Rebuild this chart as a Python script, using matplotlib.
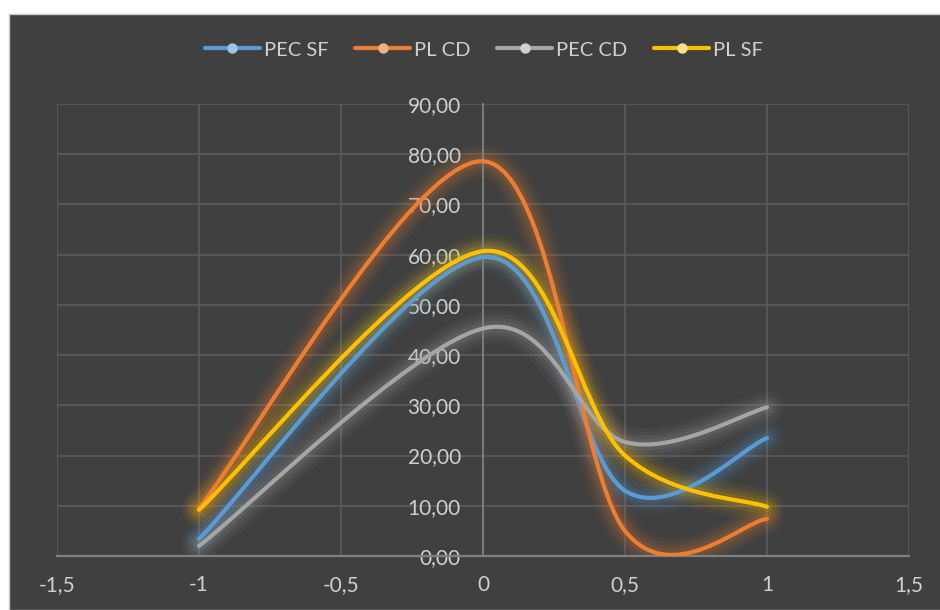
import matplotlib

matplotlib.use("Agg")
import matplotlib.pyplot as plt
import numpy as np
from matplotlib.lines import Line2D
from matplotlib.patches import PathPatch, Rectangle
from matplotlib.path import Path
from matplotlib.ticker import FuncFormatter


X_POINTS = [-1.0, 0.0, 0.5, 1.0]
PEC_SF = [3.4, 59.5, 13.0, 23.5]
PL_CD = [9.5, 78.6, 5.0, 7.4]
PEC_CD = [2.0, 45.3, 22.7, 29.6]
PL_SF = [9.2, 60.7, 20.0, 9.8]

SERIES_NAMES = ["PEC SF", "PL CD", "PEC CD", "PL SF"]
SERIES_VALUES = [PEC_SF, PL_CD, PEC_CD, PL_SF]

X_TICKS = [-1.5, -1.0, -0.5, 0.0, 0.5, 1.0, 1.5]
X_TICK_LABELS = ["-1,5", "-1", "-0,5", "0", "0,5", "1", "1,5"]
Y_TICKS = [0, 10, 20, 30, 40, 50, 60, 70, 80, 90]

LINE_COLORS = ["#5B9BD5", "#ED7D31", "#A5A5A5", "#FFC000"]
MARKER_COLORS = ["#9DC3E6", "#F4B183", "#D0D0D0", "#FFE08A"]

BG = "#404040"
GRID = "#595959"
AXIS = "#808080"
TEXT = "#D0D0D0"
FONT = ["Lato", "DejaVu Sans"]


def smooth_path(xs, ys):
    # Bezier segments the way Excel smooths a scatter line
    pts = np.column_stack([xs, ys])
    n = len(pts)
    verts = [tuple(pts[0])]
    codes = [Path.MOVETO]
    for i in range(n - 1):
        prev_pt = pts[max(i - 1, 0)]
        next_pt = pts[min(i + 2, n - 1)]
        c1 = pts[i] + (pts[i + 1] - prev_pt) / 6.0
        c2 = pts[i + 1] - (next_pt - pts[i]) / 6.0
        verts += [tuple(c1), tuple(c2), tuple(pts[i + 1])]
        codes += [Path.CURVE4] * 3
    return Path(verts, codes)


fig = plt.figure(figsize=(9.4, 6.1), dpi=100, facecolor="white")
fig.patches.append(
    Rectangle((9 / 940, 0), 1, 1 - 14 / 610, transform=fig.transFigure,
              facecolor=BG, edgecolor="#C8C8C8", linewidth=1.0, zorder=-10)
)

ax = fig.add_axes([57 / 940, 1 - 556 / 610, (909 - 57) / 940, (556 - 104) / 610])
ax.set_facecolor(BG)
ax.patch.set_alpha(0)

ax.set_xlim(-1.5, 1.5)
ax.set_ylim(0, 90)
ax.set_xticks(X_TICKS)
ax.set_xticklabels(X_TICK_LABELS)
ax.set_yticks(Y_TICKS)
ax.yaxis.set_major_formatter(FuncFormatter(lambda v, _: f"{v:.2f}".replace(".", ",")))

ax.grid(True, color=GRID, linewidth=1.3)
ax.set_axisbelow(True)
for side in ("top", "right"):
    ax.spines[side].set_visible(False)
ax.spines["left"].set_position(("data", 0))
ax.spines["left"].set_color(AXIS)
ax.spines["left"].set_linewidth(1.3)
ax.spines["bottom"].set_color(AXIS)
ax.spines["bottom"].set_linewidth(1.6)

ax.tick_params(axis="both", length=0, colors=TEXT, labelsize=15)
ax.tick_params(axis="y", pad=16)
ax.tick_params(axis="x", pad=14)
for label in ax.get_xticklabels() + ax.get_yticklabels():
    label.set_family(FONT)

for name, values, color in zip(SERIES_NAMES, SERIES_VALUES, LINE_COLORS):
    path = smooth_path(X_POINTS, values)
    # soft glow under the line
    for width, alpha in ((24, 0.05), (18, 0.07), (13, 0.09), (8, 0.12)):
        ax.add_patch(PathPatch(path, facecolor="none", edgecolor=color,
                               linewidth=width, alpha=alpha, capstyle="round",
                               joinstyle="round", zorder=2))
    ax.add_patch(PathPatch(path, facecolor="none", edgecolor=color,
                           linewidth=3.0, capstyle="round", zorder=3))

handles = [
    Line2D([0], [0], color=c, linewidth=3.0, marker="o", markersize=6.5,
           markerfacecolor=m, markeredgecolor=m, solid_capstyle="round")
    for c, m in zip(LINE_COLORS, MARKER_COLORS)
]
leg = fig.legend(handles, SERIES_NAMES, loc="center", bbox_to_anchor=(484 / 940, 1 - 50 / 610),
                 ncol=4, frameon=False, handlelength=2.75, handletextpad=0.2,
                 columnspacing=1.3, prop={"family": FONT, "size": 14.5})
for text in leg.get_texts():
    text.set_color(TEXT)

fig.savefig("out.png", dpi=100, facecolor=fig.get_facecolor())
